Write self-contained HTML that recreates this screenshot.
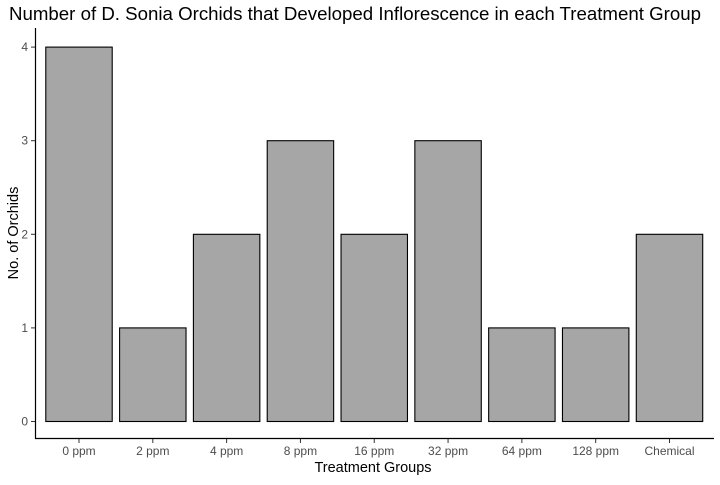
<!DOCTYPE html>
<html><head><meta charset="utf-8"><style>
body{margin:0;background:#fff}
svg text{font-family:"Liberation Sans",Arial,sans-serif}
</style></head><body>
<svg id="c" width="720" height="480" viewBox="0 0 720 480">
<text x="355" y="20" text-anchor="middle" font-size="18" textLength="692" lengthAdjust="spacingAndGlyphs" fill="#000">Number of D. Sonia Orchids that Developed Inflorescence in each Treatment Group</text>
<g id="bars"></g>
<line x1="35.5" y1="28" x2="35.5" y2="439" stroke="#000" stroke-width="1.2"/>
<line x1="35" y1="438.5" x2="714" y2="438.5" stroke="#000" stroke-width="1.2"/>
<g id="yt"></g><g id="xt"></g>
<text x="373" y="472" text-anchor="middle" font-size="14.5" fill="#000">Treatment Groups</text>
<text transform="translate(18,233) rotate(-90)" text-anchor="middle" font-size="14.5" fill="#000">No. of Orchids</text>
</svg>
<script>
const categories=["0 ppm","2 ppm","4 ppm","8 ppm","16 ppm","32 ppm","64 ppm","128 ppm","Chemical"];
const counts=[4,1,2,3,2,3,1,1,2];
const yTicks=[0,1,2,3,4];
const NS="http://www.w3.org/2000/svg";
const y0=421.5,pxPerUnit=93.6;
const firstC=79,lastC=669.5;
const step=(lastC-firstC)/(categories.length-1);
function xC(i){return firstC+step*i;}
function yS(v){return y0-v*pxPerUnit;}
function mk(t,a,p){const e=document.createElementNS(NS,t);for(const k in a)e.setAttribute(k,a[k]);p.appendChild(e);return e;}
const bars=document.getElementById('bars'),yt=document.getElementById('yt'),xt=document.getElementById('xt');
const bw=step*0.9;
counts.forEach((v,i)=>{
  const r=mk('rect',{x:xC(i)-bw/2,y:yS(v),width:bw,height:yS(0)-yS(v),fill:'#a6a6a6',stroke:'#000','stroke-width':1.1},bars);
  
  
});
yTicks.forEach(v=>{
  const l=mk('line',{x1:31,x2:35,y1:yS(v),y2:yS(v),stroke:'#333'},yt);
  
  
  const t=mk('text',{x:28,y:yS(v)+4,'text-anchor':'end','font-size':12,fill:'#4d4d4d'},yt);
  t.textContent=v;
  
  
});
categories.forEach((c,i)=>{
  const l=mk('line',{x1:xC(i),x2:xC(i),y1:439,y2:443,stroke:'#333'},xt);
  
  
  const t=mk('text',{x:xC(i),y:455,'text-anchor':'middle','font-size':12,fill:'#4d4d4d'},xt);
  t.textContent=c;
  
  
});
</script>
</body></html>
